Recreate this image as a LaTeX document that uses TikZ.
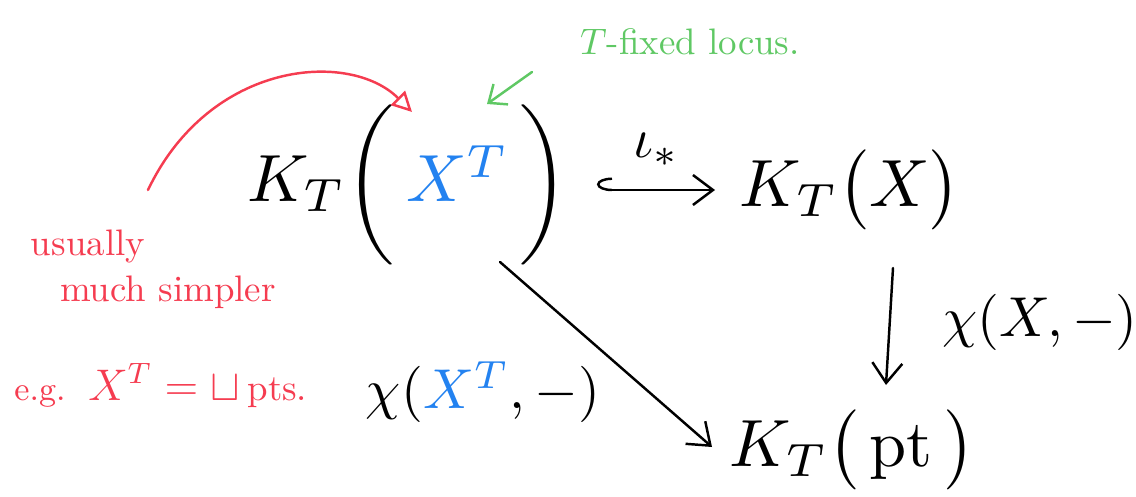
\documentclass[tikz,border=0pt]{standalone}
\usepackage{amsmath,amssymb}
\usetikzlibrary{arrows.meta}
\definecolor{inkred}{RGB}{245,60,80}
\definecolor{inkgreen}{RGB}{95,200,100}
\definecolor{inkblue}{RGB}{35,130,240}
\tikzset{
  big/.style={scale=3.8, transform shape, inner sep=1pt},
  maplabel/.style={scale=3.2, transform shape, inner sep=1pt},
  note/.style={scale=2.1, transform shape, inner sep=1pt},
  mapto/.style={-{Straight Barb[length=4mm,width=6mm]}, line width=1.4pt}
}
\begin{document}
\begin{tikzpicture}[x=0.02cm, y=-0.02cm, line cap=round, line join=round]
\useasboundingbox (0,0) rectangle (1136,497);
% Main diagram
\node[big] (KXT) at (408,185) {$K_T\biggl(\,{\color{inkblue}X^T}\,\biggr)$};
\node[big] (KX) at (850,190) {$K_T\bigl(X\bigr)$};
\node[big] (Kpt) at (852,450) {$K_T\bigl(\,\mathrm{pt}\,\bigr)$};
% Maps
\coordinate (hs) at (597,190);
\coordinate (he) at (715,190);
\draw[line width=1.4pt, {Hooks[right,length=3mm,width=5mm]}-{Straight Barb[length=4mm,width=6mm]}] (hs) -- (he)
  node[midway, above=8pt, maplabel] (iota) {$\iota_*$};
\coordinate (ds) at (893,268);
\coordinate (de) at (886,385);
\draw[mapto] (ds) -- (de);
\node[maplabel] (chiX) at (1040,322) {$\chi(X,-)$};
\coordinate (gs) at (500,262);
\coordinate (ge) at (712,447);
\draw[mapto] (gs) -- (ge);
\node[maplabel] (chiXT) at (483,392) {$\chi({\color{inkblue}X^T},-)$};
% Green annotation
\node[note, text=inkgreen] (fixed) at (690,42) {$T$-fixed locus.};
\coordinate (gt) at (532,72);
\coordinate (gh) at (487,104);
\draw[inkgreen, line width=1.4pt, -{Straight Barb[length=3mm,width=5mm]}] (gt) -- (gh);
% Red annotation
\coordinate (rs) at (148,190);
\coordinate (rh) at (412,112);
\draw[inkred, line width=1.4pt, -{Triangle[open,length=4mm,width=4mm]}] (rs) .. controls (210,60) and (350,50) .. (rh);
\node[note, text=inkred] (usually) at (88,246) {usually};
\node[note, text=inkred] (simpler) at (168,292) {much simpler};
\node[note, text=inkred, anchor=base west] (eg) at (10,400) {\small e.g.\ \ \large$X^T = \sqcup$\,\normalsize pts.};
\end{tikzpicture}
\end{document}
